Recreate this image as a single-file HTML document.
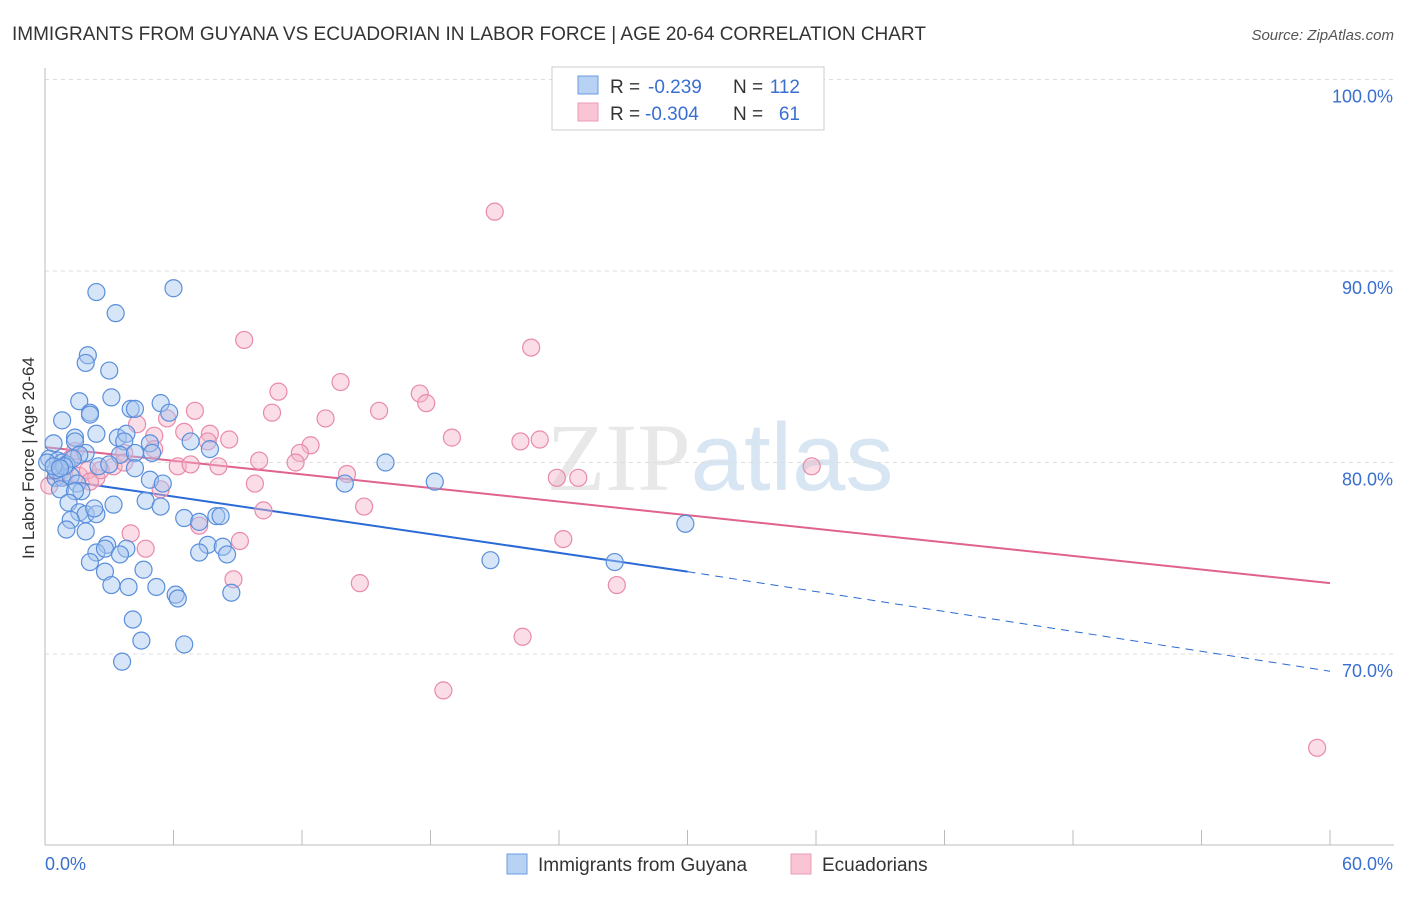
<!DOCTYPE html>
<html><head><meta charset="utf-8"><style>
body{margin:0;background:#fff;font-family:"Liberation Sans",sans-serif}
svg text{font-family:"Liberation Sans",sans-serif}
</style></head><body>
<svg width="1406" height="892" viewBox="0 0 1406 892">
<text x="12" y="40" font-size="19" fill="#333">IMMIGRANTS FROM GUYANA VS ECUADORIAN IN LABOR FORCE | AGE 20-64 CORRELATION CHART</text>
<text x="1394" y="40" font-size="15" fill="#555" text-anchor="end" font-style="italic">Source: ZipAtlas.com</text>
<text x="720" y="490" font-size="96" text-anchor="middle" fill="#e8e8e8"><tspan font-family="Liberation Serif">ZIP</tspan><tspan fill="#d8e5f3">atlas</tspan></text>
<g id="grid"></g>
<g id="axes"></g>
<g id="lines"></g>
<g id="pts"></g>
<text transform="translate(34,458) rotate(-90)" font-size="17" fill="#333" text-anchor="middle">In Labor Force | Age 20-64</text>
<g>
<rect x="552" y="67" width="272" height="63" fill="#fff" stroke="#ccc"/>
<rect x="578" y="76" width="20" height="18" fill="#b8d2f4" stroke="#6d9be0"/>
<rect x="578" y="103" width="20" height="18" fill="#f9c4d4" stroke="#ec9bb6"/>
<text x="610" y="93" font-size="19" fill="#333">R =</text>
<text x="648" y="93" font-size="19" fill="#3a6fcf">-0.239</text>
<text x="733" y="93" font-size="19" fill="#333">N =</text>
<text x="800" y="93" font-size="19" fill="#3a6fcf" text-anchor="end">112</text>
<text x="610" y="120" font-size="19" fill="#333">R =</text>
<text x="645" y="120" font-size="19" fill="#3a6fcf">-0.304</text>
<text x="733" y="120" font-size="19" fill="#333">N =</text>
<text x="800" y="120" font-size="19" fill="#3a6fcf" text-anchor="end">61</text>
</g>
<g>
<rect x="507" y="854" width="20" height="20" fill="#b8d2f4" stroke="#6d9be0"/>
<text x="538" y="871" font-size="19" fill="#333">Immigrants from Guyana</text>
<rect x="791" y="854" width="20" height="20" fill="#f9c4d4" stroke="#ec9bb6"/>
<text x="822" y="871" font-size="19" fill="#333">Ecuadorians</text>
</g>
</svg>
<script>
const blueX=[2.4,3.3,6.0,2.0,1.9,3.0,3.1,1.6,2.1,2.1,4.0,4.2,5.4,5.8,0.8,2.4,1.4,1.4,3.4,3.8,3.7,4.9,6.8,7.7,0.4,1.9,1.6,3.5,4.2,5.0,0.2,0.6,0.8,1.0,1.3,2.5,3.0,4.2,4.9,5.5,0.5,0.8,1.2,1.5,1.7,0.7,1.4,3.2,4.7,5.4,1.1,1.6,1.9,2.4,2.3,6.5,7.2,8.0,8.2,1.2,1.0,1.9,15.9,14.0,18.2,29.9,2.9,3.8,2.4,2.8,3.5,7.6,8.3,8.5,7.2,2.1,2.8,4.6,20.8,26.6,3.1,3.9,5.2,6.1,6.2,8.7,4.1,4.5,6.5,3.6,0.5,0.9,0.1,0.4,0.7];
const blueY=[88.9,87.8,89.1,85.6,85.2,84.8,83.4,83.2,82.6,82.5,82.8,82.8,83.1,82.6,82.2,81.5,81.3,81.1,81.3,81.5,81.1,81.0,81.1,80.7,81.0,80.5,80.4,80.4,80.5,80.5,80.2,80.1,80.0,79.9,80.2,79.8,79.9,79.7,79.1,78.9,79.2,79.2,79.3,78.9,78.5,78.6,78.5,77.8,78.0,77.7,77.9,77.4,77.3,77.3,77.6,77.1,76.9,77.2,77.2,77.0,76.5,76.4,80.0,78.9,79.0,76.8,75.7,75.5,75.3,75.5,75.2,75.7,75.6,75.2,75.3,74.8,74.3,74.4,74.9,74.8,73.6,73.5,73.5,73.1,72.9,73.2,71.8,70.7,70.5,69.6,79.6,79.8,80.0,79.8,79.7];
const pinkX=[21.0,9.3,22.7,10.9,13.8,17.5,17.8,15.6,10.6,7.0,13.1,5.7,4.3,6.5,7.7,8.6,12.4,11.9,19.0,22.2,23.1,5.1,5.1,7.6,3.7,10.0,11.7,6.2,6.8,8.1,14.1,23.9,24.9,35.8,9.8,5.4,2.4,0.9,0.2,1.6,2.0,3.2,14.9,10.2,7.2,4.0,4.7,9.1,24.2,8.8,14.7,26.7,22.3,18.6,59.4,1.2,1.4,3.7,2.6,0.7,2.1];
const pinkY=[93.1,86.4,86.0,83.7,84.2,83.6,83.1,82.7,82.6,82.7,82.3,82.3,82.0,81.6,81.5,81.2,80.9,80.5,81.3,81.1,81.2,81.4,80.7,81.1,80.5,80.1,80.0,79.8,79.9,79.8,79.4,79.2,79.2,79.8,78.9,78.6,79.2,79.3,78.8,79.3,79.6,79.8,77.7,77.5,76.7,76.3,75.5,75.9,76.0,73.9,73.7,73.6,70.9,68.1,65.1,80.2,80.6,80.0,79.6,79.5,79.0];
const yTicks=[100,90,80,70];
const yTickLabels=["100.0%","90.0%","80.0%","70.0%"];
const blueLine=[79.2,74.3,69.1]; // at x=0,30,60
const pinkLine=[80.8,73.7]; // at x=0,60
const NS="http://www.w3.org/2000/svg";
const X=v=>45+v/60*1285, Y=v=>79.5+(100-v)*19.15;
function mk(p,t,a){const e=document.createElementNS(NS,t);for(const k in a)e.setAttribute(k,a[k]);p.appendChild(e);return e;}
const grid=document.getElementById('grid'),axes=document.getElementById('axes'),lines=document.getElementById('lines'),pts=document.getElementById('pts');
yTicks.forEach((t,i)=>{
 const l=mk(grid,'line',{x1:45,x2:1394,y1:Y(t),y2:Y(t),stroke:'#ddd','stroke-dasharray':'4,4'});
 
 
 const tx=mk(grid,'text',{x:1393,y:Y(t)+23,'font-size':18,fill:'#3a6fcf','text-anchor':'end'});
 tx.textContent=yTickLabels[i];
 
 
});
const ya=mk(axes,'line',{x1:45,x2:45,y1:68,y2:845,stroke:'#bbb'});


const xa=mk(axes,'line',{x1:45,x2:1394,y1:845,y2:845,stroke:'#bbb'});


for(let i=0;i<=10;i++){const tk=mk(axes,'line',{x1:X(i*6),x2:X(i*6),y1:830,y2:845,stroke:'#bbb'});
 
 }
[["0.0%",45,'start'],["60.0%",1393,'end']].forEach(a=>{const t=mk(axes,'text',{x:a[1],y:870,'font-size':18,fill:'#3a6fcf','text-anchor':a[2]});t.textContent=a[0];
 
 });
function dot(x,y,f,s,n){const c=mk(pts,'circle',{cx:X(x),cy:Y(y),r:8.5,fill:f,'fill-opacity':0.45,stroke:s,'stroke-width':1.2});
 
 }
pinkX.forEach((x,i)=>dot(x,pinkY[i],'#f5b3c8','#e98aab','ecuadorian-point'));
blueX.forEach((x,i)=>dot(x,blueY[i],'#a7c6f0','#5a8fdb','guyana-point'));
const b1=mk(lines,'line',{x1:X(0),y1:Y(blueLine[0]),x2:X(30),y2:Y(blueLine[1]),stroke:'#2a6ad6','stroke-width':2});


const b2=mk(lines,'line',{x1:X(30),y1:Y(blueLine[1]),x2:X(60),y2:Y(blueLine[2]),stroke:'#2a6ad6','stroke-width':1,'stroke-dasharray':'8,6'});


const p1=mk(lines,'line',{x1:X(0),y1:Y(pinkLine[0]),x2:X(60),y2:Y(pinkLine[1]),stroke:'#e0628d','stroke-width':2});


</script>
</body></html>
